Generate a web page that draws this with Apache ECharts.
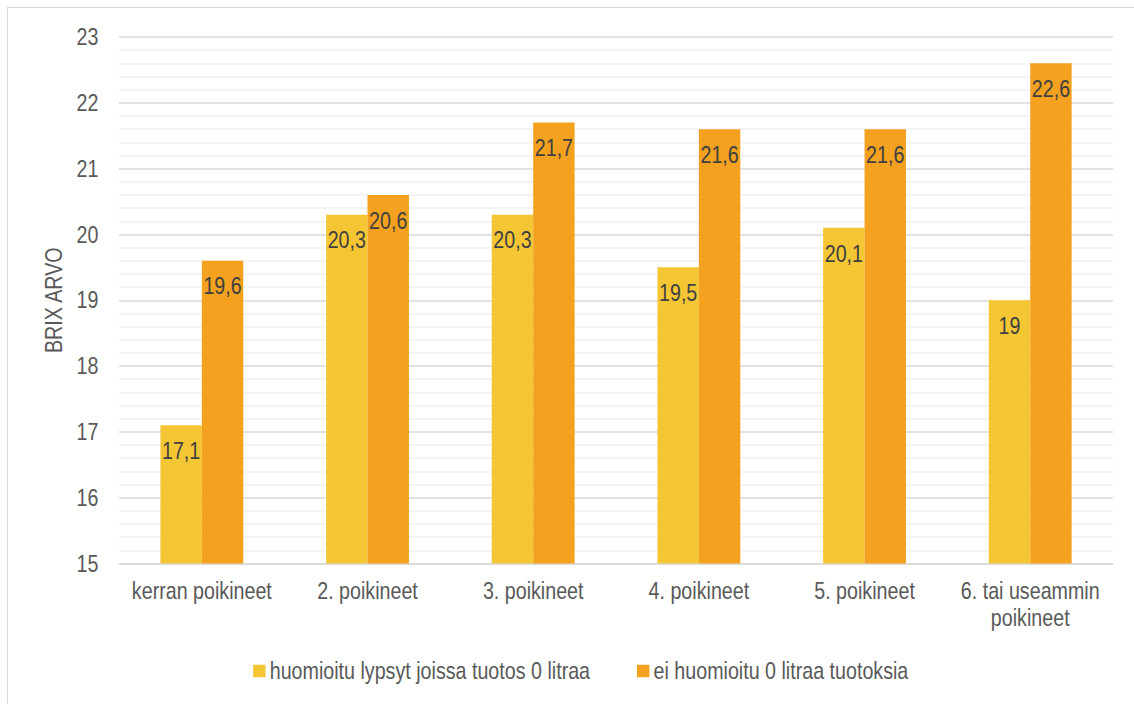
<!DOCTYPE html>
<html>
<head>
<meta charset="utf-8">
<script src="https://cdn.jsdelivr.net/npm/echarts@6/dist/echarts.min.js"></script>
<style>
  html, body { margin: 0; padding: 0; background: #fff; overflow: hidden; width: 1134px; height: 704px; }
  #frame { position: absolute; left: 7px; top: 7px; width: 1140px; height: 710px; border: 1px solid #d9d9d9; box-sizing: border-box; }
  /* the chart is laid out wider and squeezed horizontally to get narrow lettering */
  #chart { position: absolute; left: 0; top: 0; width: 1383px; height: 704px; transform: scaleX(0.82); transform-origin: 0 0; }
</style>
</head>
<body>
<div id="frame"></div>
<div id="chart"></div>
<script>
const categories = ['kerran poikineet', '2. poikineet', '3. poikineet', '4. poikineet', '5. poikineet', '6. tai useammin\npoikineet'];
const seriesNames = ['huomioitu lypsyt joissa tuotos 0 litraa', 'ei huomioitu 0 litraa tuotoksia'];
const withZero = [17.1, 20.3, 20.3, 19.5, 20.1, 19];
const withoutZero = [19.6, 20.6, 21.7, 21.6, 21.6, 22.6];
const yTicks = [15, 16, 17, 18, 19, 20, 21, 22, 23];
const yTitle = 'BRIX ARVO';

const SQUEEZE = 0.82;
const FONT = '"Liberation Sans", Arial, sans-serif';
const TEXT = '#595959';
const GRID = { left: 119 / SQUEEZE, right: 21 / SQUEEZE, top: 37, bottom: 140.5 };

const fmt = v => String(v).replace('.', ',');

const chart = echarts.init(document.getElementById('chart'), null, { renderer: 'svg' });

const labelCfg = {
  show: true,
  position: 'insideTop',
  distance: 13.5,
  color: '#404040',
  fontFamily: FONT,
  fontSize: 24,
  formatter: p => fmt(p.value)
};

chart.setOption({
  animation: false,
  textStyle: { fontFamily: FONT },
  grid: GRID,
  graphic: [{
    type: 'text',
    x: 54 / SQUEEZE,
    y: GRID.top + (704 - GRID.top - GRID.bottom) / 2,
    rotation: Math.PI / 2,
    scaleX: SQUEEZE,
    scaleY: 1 / SQUEEZE,
    style: {
      text: yTitle,
      fill: TEXT,
      font: '24px ' + FONT,
      align: 'center',
      verticalAlign: 'middle'
    }
  }],
  legend: {
    top: 654,
    left: 249 / SQUEEZE,
    itemWidth: 12.5 / SQUEEZE,
    itemHeight: 12.5,
    itemGap: 57,
    icon: 'rect',
    textStyle: { color: TEXT, fontSize: 24, fontFamily: FONT },
    data: seriesNames
  },
  xAxis: {
    type: 'category',
    data: categories,
    axisLine: { lineStyle: { color: '#d9d9d9', width: 1.5 } },
    axisTick: { show: false },
    axisLabel: { color: TEXT, fontSize: 24, fontFamily: FONT, margin: 14, lineHeight: 27, interval: 0 }
  },
  yAxis: {
    type: 'value',
    min: yTicks[0],
    max: yTicks[yTicks.length - 1],
    interval: 1,
    axisLine: { show: false },
    axisTick: { show: false },
    axisLabel: { color: TEXT, fontSize: 24, fontFamily: FONT, margin: 25 },
    splitLine: { lineStyle: { color: '#d9d9d9', width: 1.5 } },
    minorTick: { show: false, splitNumber: 5 },
    minorSplitLine: { show: true, lineStyle: { color: '#f0f0f0', width: 1.5 } }
  },
  series: [
    {
      name: seriesNames[0],
      type: 'bar',
      data: withZero,
      barGap: '0%',
      barCategoryGap: '50%',
      itemStyle: { color: '#f5c634' },
      label: labelCfg
    },
    {
      name: seriesNames[1],
      type: 'bar',
      data: withoutZero,
      itemStyle: { color: '#f4a11f' },
      label: labelCfg
    }
  ]
});
</script>
</body>
</html>
